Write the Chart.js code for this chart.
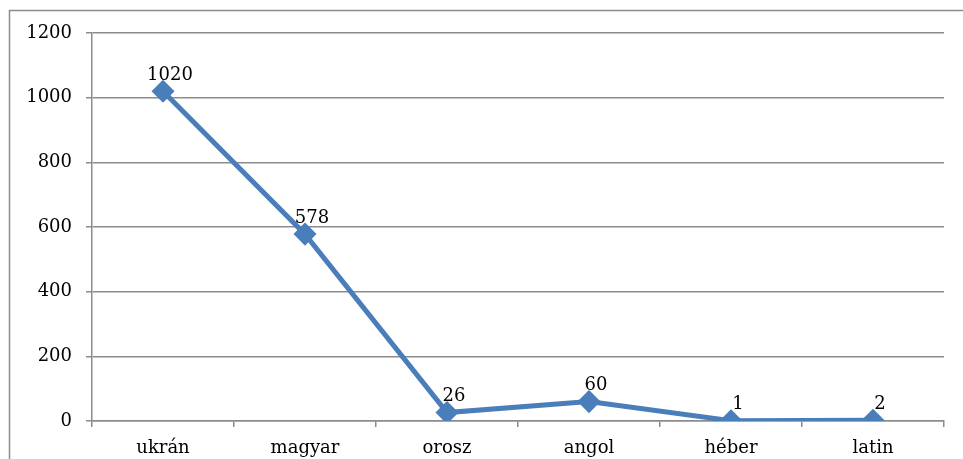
<!DOCTYPE html>
<html>
<head>
<meta charset="utf-8">
<script src="https://cdn.jsdelivr.net/npm/chart.js@4/dist/chart.umd.min.js"></script>
<style>
  html, body { margin: 0; padding: 0; background: #fff; }
  #wrap { width: 963px; height: 459px; position: relative; }
</style>
</head>
<body>
<div id="wrap"><canvas id="lang_chart"></canvas></div>
<script>
var categories = ['ukrán', 'magyar', 'orosz', 'angol', 'héber', 'latin'];
var counts = [1020, 578, 26, 60, 1, 2];
var yTicks = [0, 200, 400, 600, 800, 1000, 1200];

var font = { family: "'DejaVu Serif', serif", size: 18 };

// outer frame like the office chart border
var framePlugin = {
  id: 'frame',
  beforeDraw: function(chart){
    var c = chart.ctx;
    c.save();
    c.strokeStyle = '#8c8c8c';
    c.lineWidth = 1.5;
    c.strokeRect(9.5, 10.5, 1000, 1000);
    c.restore();
  }
};

// value labels above each point
var labelPlugin = {
  id: 'valueLabels',
  afterDatasetsDraw: function(chart){
    var c = chart.ctx;
    var meta = chart.getDatasetMeta(0);
    c.save();
    c.fillStyle = '#000';
    c.font = font.size + 'px ' + font.family;
    c.textAlign = 'center';
    c.textBaseline = 'bottom';
    meta.data.forEach(function(pt, i){
      c.fillText(String(counts[i]), pt.x + 7, pt.y - 7);
    });
    c.restore();
  }
};

var ctx = document.getElementById('lang_chart');
var myChart = new Chart(ctx, {
  type: 'line',
  data: {
    labels: categories,
    datasets: [{
      data: counts,
      borderColor: '#4a7ebb',
      backgroundColor: '#4a7ebb',
      borderWidth: 5,
      pointStyle: 'rectRot',
      pointRadius: 8,
      pointHoverRadius: 8,
      tension: 0
    }]
  },
  options: {
    responsive: true,
    maintainAspectRatio: false,
    animation: false,
    events: [],
    layout: { padding: { top: 33, right: 19, bottom: 0, left: 0 } },
    plugins: { legend: { display: false }, tooltip: { enabled: false } },
    scales: {
      x: {
        offset: true,
        afterFit: function(s){ s.height = 38; },
        grid: { offset: true, drawOnChartArea: false, drawTicks: true, tickLength: 6, color: '#8c8c8c', lineWidth: 1.5 },
        border: { display: true, color: '#8c8c8c', width: 1.5 },
        ticks: { color: '#000', font: font, padding: 11, maxRotation: 0 }
      },
      y: {
        min: 0,
        max: 1200,
        afterFit: function(s){ s.width = 92; },
        afterBuildTicks: function(s){ s.ticks = yTicks.map(function(v){ return { value: v }; }); },
        grid: { color: '#8c8c8c', lineWidth: 1.5, tickLength: 6 },
        border: { display: true, color: '#8c8c8c', width: 1.5 },
        ticks: { color: '#000', font: font, padding: 14, callback: function(v){ return String(v); } }
      }
    }
  },
  plugins: [framePlugin, labelPlugin]
});
</script>
</body>
</html>
